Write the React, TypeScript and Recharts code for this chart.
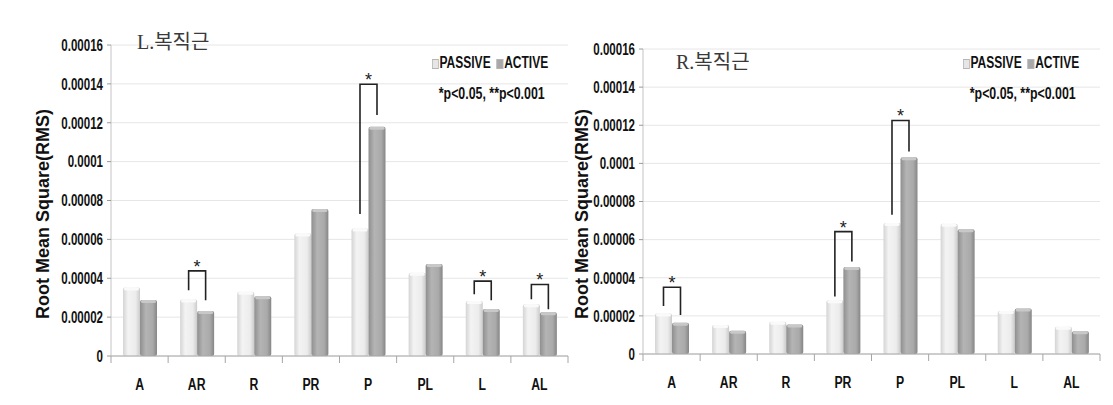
import { BarChart, Bar, XAxis, YAxis, CartesianGrid } from 'recharts';

const categories = ['A', 'AR', 'R', 'PR', 'P', 'PL', 'L', 'AL'];
const yTicks = [0, 0.00002, 0.00004, 0.00006, 0.00008, 0.0001, 0.00012, 0.00014, 0.00016];

// L.복직근
const leftPassive = [0.0000353, 0.0000291, 0.000033, 0.000063, 0.0000656, 0.0000428, 0.0000283, 0.0000266];
const leftActive = [0.0000288, 0.0000231, 0.0000308, 0.0000756, 0.0001179, 0.0000473, 0.0000242, 0.0000225];
// significance brackets: top bar, left leg end, right leg end (value units)
const leftBracketTop = [null, 0.0000438, null, null, 0.0001398, null, 0.0000385, 0.0000368];
const leftBracketL = [null, 0.0000338, null, null, 0.000073, null, 0.0000318, 0.0000292];
const leftBracketR = [null, 0.0000287, null, null, 0.000124, null, 0.0000287, 0.000024];

// R.복직근
const rightPassive = [0.0000213, 0.0000152, 0.0000169, 0.0000282, 0.0000687, 0.0000683, 0.0000225, 0.0000143];
const rightActive = [0.0000164, 0.0000122, 0.0000155, 0.0000457, 0.0001032, 0.0000654, 0.0000239, 0.000012];
const rightBracketTop = [0.000035, null, null, 0.0000642, 0.0001225, null, null, null];
const rightBracketL = [0.0000252, null, null, 0.0000301, 0.000073, null, null, null];
const rightBracketR = [0.0000205, null, null, 0.0000485, 0.0001062, null, null, null];

const SANS = '"Liberation Sans", Arial, sans-serif';

const buildRows = (p: number[], a: number[], t: (number | null)[], l: (number | null)[], r: (number | null)[]) =>
  categories.map((c, i) => ({ name: c, passive: p[i], active: a[i], top: t[i], legL: l[i], legR: r[i] }));

const leftRows = buildRows(leftPassive, leftActive, leftBracketTop, leftBracketL, leftBracketR);
const rightRows = buildRows(rightPassive, rightActive, rightBracketTop, rightBracketL, rightBracketR);

const fmtY = (v: number) => (v === 0 ? '0' : String(Number(v.toFixed(5))));

function makePassiveShape(gid: string) {
  return (props: any) => {
    const { x, y, width, height, payload } = props;
    if (!height || height <= 0) return <g />;
    const ppu = height / payload.passive;
    const zero = y + height;
    const xl = x + width / 2;
    const xr = x + width * 1.5;
    return (
      <g>
        <rect x={x} y={y} width={width} height={height} fill={`url(#${gid}-p)`} rx={2} />
        <rect x={x + 1} y={y} width={width - 2} height={3} fill="#fafafa" rx={1.5} />
        {payload.top != null && (
          <g>
            <polyline
              points={`${xl},${zero - payload.legL * ppu} ${xl},${zero - payload.top * ppu} ${xr},${zero - payload.top * ppu} ${xr},${zero - payload.legR * ppu}`}
              fill="none"
              stroke="#222"
              strokeWidth={1.6}
            />
            <text x={(xl + xr) / 2} y={zero - payload.top * ppu + 2} textAnchor="middle" fontSize={18} fontFamily={SANS} fill="#222">*</text>
          </g>
        )}
      </g>
    );
  };
}

function makeActiveShape(gid: string) {
  return (props: any) => {
    const { x, y, width, height } = props;
    if (!height || height <= 0) return <g />;
    return (
      <g>
        <rect x={x} y={y} width={width} height={height} fill={`url(#${gid}-a)`} rx={2} />
        <rect x={x + 1} y={y} width={width - 2} height={3} fill="#c8c8c8" rx={1.5} />
      </g>
    );
  };
}

function makeXTick(bw: number) {
  return (props: any) => {
    const { x, y, payload } = props;
    const idx = categories.indexOf(payload.value);
    return (
      <g>
        <line x1={x - bw / 2} x2={x - bw / 2} y1={y} y2={y + 7} stroke="#a6a6a6" />
        {idx === categories.length - 1 && <line x1={x + bw / 2} x2={x + bw / 2} y1={y} y2={y + 7} stroke="#a6a6a6" />}
        <text
          transform={`translate(${x},${y + 28}) scale(0.72,1)`}
          textAnchor="middle"
          dominantBaseline="central"
          fontSize={17}
          fontWeight="bold"
          fontFamily={SANS}
          fill="#111"
        >
          {payload.value}
        </text>
      </g>
    );
  };
}

const YTick = (props: any) => {
  const { x, y, payload } = props;
  return (
    <text
      transform={`translate(${x},${y}) scale(0.68,1)`}
      textAnchor="end"
      dominantBaseline="central"
      fontSize={17}
      fontWeight="bold"
      fontFamily={SANS}
      fill="#111"
    >
      {fmtY(payload.value)}
    </text>
  );
};

interface PanelProps {
  gid: string;
  rows: typeof leftRows;
  width: number;
  margin: { top: number; right: number; bottom: number; left: number };
  yWidth: number;
  labelX: number;
  labelY: number;
}

function Panel({ gid, rows, width, margin, yWidth, labelX, labelY }: PanelProps) {
  const bw = (width - margin.left - margin.right - yWidth) / categories.length;
  return (
    <BarChart width={width} height={405} data={rows} margin={margin} barCategoryGap="21%" barGap={0}>
      <defs>
        <linearGradient id={`${gid}-p`} x1="0" y1="0" x2="1" y2="0">
          <stop offset="0%" stopColor="#d4d4d4" />
          <stop offset="30%" stopColor="#f3f3f3" />
          <stop offset="75%" stopColor="#ececec" />
          <stop offset="100%" stopColor="#cbcbcb" />
        </linearGradient>
        <linearGradient id={`${gid}-a`} x1="0" y1="0" x2="1" y2="0">
          <stop offset="0%" stopColor="#8f8f8f" />
          <stop offset="35%" stopColor="#b4b4b4" />
          <stop offset="75%" stopColor="#aaaaaa" />
          <stop offset="100%" stopColor="#868686" />
        </linearGradient>
      </defs>
      <CartesianGrid vertical={false} stroke="#e6e6e6" />
      <XAxis
        dataKey="name"
        axisLine={{ stroke: '#a6a6a6' }}
        tickLine={false}
        tickSize={0}
        tickMargin={0}
        height={30}
        interval={0}
        tick={makeXTick(bw)}
      />
      <YAxis
        domain={[0, 0.00016]}
        ticks={yTicks}
        width={yWidth}
        axisLine={{ stroke: '#c4c4c4' }}
        tickLine={{ stroke: '#9a9a9a' }}
        tickSize={4}
        tickMargin={4}
        tick={YTick}
        label={{
          value: 'Root Mean Square(RMS)',
          content: () => (
            <text
              x={labelX}
              y={labelY}
              transform={`rotate(-90 ${labelX} ${labelY})`}
              textAnchor="middle"
              dominantBaseline="central"
              fontSize={18}
              fontWeight="bold"
              fontFamily={SANS}
              fill="#111"
            >
              Root Mean Square(RMS)
            </text>
          ),
        }}
      />
      <Bar dataKey="passive" isAnimationActive={false} shape={makePassiveShape(gid)} />
      <Bar dataKey="active" isAnimationActive={false} shape={makeActiveShape(gid)} />
    </BarChart>
  );
}

const swatch = (bg: string): React.CSSProperties => ({
  display: 'inline-block',
  width: 7,
  height: 8,
  background: bg,
  border: '1px solid #b5b5b5',
  marginRight: 1,
  verticalAlign: 'middle',
});

function Legend({ left, top }: { left: number; top: number }) {
  return (
    <div style={{ position: 'absolute', left, top, fontFamily: SANS, fontWeight: 'bold', color: '#111', whiteSpace: 'nowrap', transform: 'scaleX(0.75)', transformOrigin: '0 0' }}>
      <div style={{ fontSize: 16, lineHeight: '18px' }}>
        <span style={swatch('#e6e6e6')} />
        PASSIVE
        <span style={{ ...swatch('#a8a8a8'), marginLeft: 8 }} />
        ACTIVE
      </div>
      <div style={{ fontSize: 16.5, lineHeight: '18px', marginTop: 12, marginLeft: 9 }}>*p&lt;0.05, **p&lt;0.001</div>
    </div>
  );
}

function Title({ left, top, text }: { left: number; top: number; text: string }) {
  return (
    <div style={{ position: 'absolute', left, top, fontFamily: '"Liberation Serif", "Noto Sans CJK KR", serif', fontSize: 20, lineHeight: '22px', color: '#3a3a3a', whiteSpace: 'nowrap' }}>
      {text}
    </div>
  );
}

export default function App() {
  return (
    <div style={{ position: 'absolute', left: 0, top: 0, width: 1113, height: 405, background: '#fff', overflow: 'hidden' }}>
      <div style={{ position: 'absolute', left: 0, top: 0 }}>
        <Panel
          gid="lft"
          rows={leftRows}
          width={570}
          margin={{ top: 45, right: 2, bottom: 19, left: 0 }}
          yWidth={111}
          labelX={43}
          labelY={214}
        />
      </div>
      <div style={{ position: 'absolute', left: 565, top: 0 }}>
        <Panel
          gid="rgt"
          rows={rightRows}
          width={548}
          margin={{ top: 49, right: 13, bottom: 21, left: 0 }}
          yWidth={78}
          labelX={17}
          labelY={214}
        />
      </div>
      <Title left={137} top={31} text="L.복직근" />
      <Title left={676} top={51} text="R.복직근" />
      <Legend left={432} top={54} />
      <Legend left={963} top={54} />
    </div>
  );
}
